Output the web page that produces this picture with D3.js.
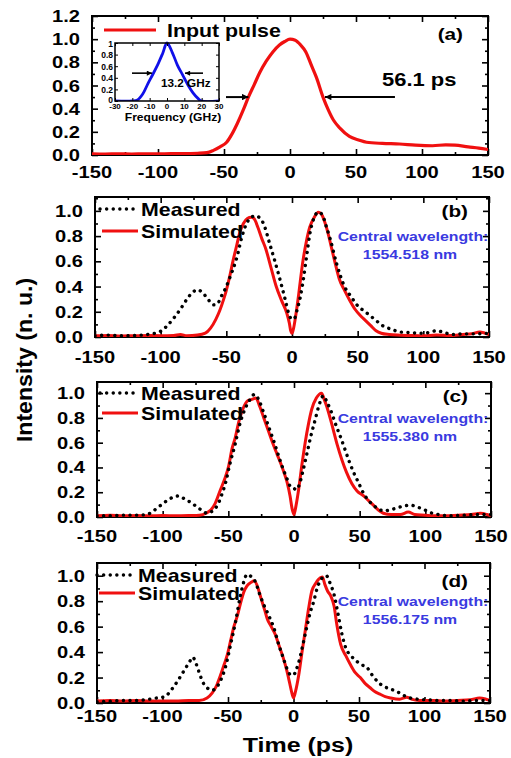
<!DOCTYPE html>
<html>
<head>
<meta charset="utf-8">
<script src="https://cdn.jsdelivr.net/npm/d3@7"></script>
<style>
  body { margin: 0; background: #fff; }
  text { font-family: "Liberation Sans", Arial, sans-serif; font-weight: bold; }
</style>
</head>
<body>
<svg id="chart" width="511" height="758"></svg>
<script>
// ---- data ----
const timeTicks = [-150, -100, -50, 0, 50, 100, 150];
const freqTicks = [-30, -20, -10, 0, 10, 20, 30];
const freqYTicks = [0, 0.2, 0.4, 0.6, 0.8, 1];

const inputPulse = [[-150,0.01],[-140,0.008],[-130,0.01],[-120,0.008],[-110,0.01],[-100,0.01],[-90,0.012],[-80,0.012],[-70,0.015],[-63,0.02],[-58,0.04],[-53,0.07],[-48,0.11],[-44,0.18],[-40,0.27],[-35,0.4],[-31.5,0.5],[-27,0.61],[-23,0.71],[-18,0.81],[-13,0.89],[-8,0.95],[-4,0.98],[0,1.0],[4,0.99],[8,0.95],[12,0.89],[16,0.78],[20,0.67],[25,0.5],[29,0.39],[33,0.3],[38,0.23],[45,0.16],[52,0.13],[58,0.11],[70,0.1],[83,0.095],[95,0.085],[108,0.08],[118,0.088],[125,0.085],[135,0.07],[143,0.06],[150,0.047]];

const spectrum = [[-30,0],[-20,0],[-17,0.02],[-14,0.12],[-11,0.3],[-8,0.47],[-5,0.65],[-2.5,0.82],[0,1],[3,0.84],[6,0.62],[9,0.45],[12,0.28],[15,0.14],[18,0.04],[20,0],[30,0]];

const measuredB = [[-150,0.01],[-140,0.015],[-130,0.01],[-120,0.012],[-110,0.02],[-100,0.045],[-95,0.09],[-90,0.15],[-85,0.22],[-80,0.3],[-76,0.35],[-72,0.375],[-68,0.35],[-64,0.3],[-60,0.255],[-57,0.26],[-54,0.32],[-50,0.4],[-47,0.48],[-42,0.63],[-38,0.8],[-35,0.89],[-31,0.95],[-28,0.96],[-24,0.94],[-21,0.88],[-17,0.74],[-13,0.6],[-9,0.45],[-5,0.29],[-2,0.17],[0,0.14],[2,0.15],[4,0.22],[6,0.3],[9,0.48],[11,0.63],[14,0.84],[17,0.95],[20,0.99],[23,0.97],[26,0.88],[29,0.78],[34,0.58],[40,0.4],[45,0.32],[49,0.26],[57,0.19],[63,0.14],[69,0.09],[76,0.06],[82,0.04],[90,0.035],[97,0.03],[104,0.035],[110,0.05],[116,0.035],[122,0.02],[130,0.025],[140,0.025],[150,0.03]];
const simulatedB = [[-150,0.01],[-140,0.012],[-130,0.008],[-120,0.01],[-110,0.012],[-100,0.01],[-90,0.012],[-85,0.02],[-80,0.01],[-72,0.015],[-66,0.03],[-62,0.07],[-58,0.14],[-55,0.21],[-52,0.3],[-50,0.37],[-47,0.5],[-45,0.6],[-42,0.73],[-40,0.82],[-37,0.9],[-34,0.94],[-31,0.95],[-29,0.94],[-26,0.87],[-23,0.78],[-20,0.7],[-16,0.55],[-12,0.4],[-8,0.29],[-4,0.19],[-2,0.11],[-1,0.05],[0,0.03],[1,0.06],[3,0.18],[5,0.33],[8,0.58],[11,0.76],[13.5,0.87],[17,0.95],[20,0.99],[22,0.98],[25,0.91],[28,0.8],[30,0.71],[33,0.58],[36,0.46],[40,0.37],[44,0.29],[48,0.22],[52,0.17],[56,0.13],[60,0.09],[64,0.05],[68,0.03],[74,0.02],[80,0.015],[90,0.012],[100,0.01],[110,0.015],[120,0.012],[130,0.02],[137,0.025],[143,0.04],[147,0.03],[150,0.02]];

const measuredC = [[-150,0.01],[-140,0.01],[-130,0.015],[-120,0.015],[-112,0.02],[-107,0.05],[-102,0.09],[-97,0.13],[-92,0.16],[-88,0.17],[-84,0.15],[-79,0.12],[-75,0.09],[-71,0.06],[-66,0.03],[-62,0.05],[-58,0.1],[-55,0.18],[-52,0.28],[-49,0.42],[-45,0.58],[-41,0.76],[-37,0.88],[-34,0.94],[-30,0.99],[-27,0.95],[-23,0.84],[-19,0.72],[-15,0.6],[-11,0.47],[-8,0.38],[-5,0.3],[-3,0.25],[0,0.23],[2,0.22],[4,0.26],[7,0.38],[10,0.52],[13,0.66],[16,0.78],[19,0.9],[22.5,0.98],[25,0.93],[28,0.86],[32,0.74],[36,0.63],[39,0.54],[42,0.45],[45,0.37],[49,0.28],[53,0.19],[57,0.13],[61,0.09],[65,0.06],[69,0.05],[74,0.06],[79,0.075],[84,0.09],[89,0.095],[94,0.08],[99,0.06],[104,0.035],[110,0.02],[119,0.01],[130,0.015],[140,0.02],[150,0.02]];
const simulatedC = [[-150,0.01],[-140,0.015],[-130,0.01],[-120,0.012],[-110,0.01],[-100,0.012],[-90,0.01],[-80,0.012],[-72,0.015],[-67,0.03],[-63,0.06],[-60,0.11],[-56,0.22],[-53,0.3],[-50,0.4],[-47,0.56],[-45,0.63],[-42,0.77],[-39,0.87],[-35,0.94],[-32,0.95],[-29,0.96],[-26,0.89],[-23,0.8],[-20,0.71],[-17,0.62],[-13,0.51],[-10,0.43],[-7,0.34],[-5,0.27],[-3,0.17],[-1.5,0.07],[0,0.02],[1.5,0.09],[3.5,0.22],[6,0.42],[8.5,0.6],[11,0.75],[13.5,0.87],[17,0.96],[21,1.0],[23,0.95],[25,0.89],[28,0.78],[30,0.7],[33,0.58],[36.5,0.46],[40,0.36],[44,0.27],[48,0.21],[53,0.17],[57,0.13],[61,0.09],[65,0.05],[68,0.03],[74,0.02],[81,0.02],[87,0.04],[92,0.02],[100,0.015],[106,0.01],[115,0.01],[125,0.015],[135,0.02],[142,0.03],[147,0.02],[150,0.01]];

const measuredD = [[-150,0.01],[-140,0.015],[-130,0.02],[-120,0.02],[-110,0.03],[-104,0.04],[-98,0.05],[-95,0.08],[-92,0.12],[-88,0.18],[-85,0.23],[-82,0.28],[-79,0.33],[-77,0.36],[-74,0.3],[-72,0.24],[-69,0.16],[-66,0.12],[-62,0.1],[-59,0.12],[-56,0.17],[-52,0.28],[-48,0.46],[-44,0.65],[-41,0.82],[-38,0.95],[-35.5,1.01],[-32,0.99],[-29,0.95],[-26,0.86],[-23,0.78],[-19,0.69],[-15,0.59],[-11,0.45],[-8,0.36],[-5,0.27],[-2,0.22],[0,0.22],[2,0.26],[4,0.32],[7,0.45],[10,0.59],[13,0.72],[15.5,0.8],[18,0.9],[21,0.97],[25,1.0],[28,0.94],[31,0.85],[34,0.7],[37,0.54],[40,0.43],[44,0.37],[48,0.33],[52,0.3],[56,0.28],[60,0.22],[64,0.17],[69,0.13],[74,0.11],[79,0.09],[84,0.06],[89,0.04],[95,0.03],[102,0.025],[110,0.02],[120,0.02],[130,0.015],[140,0.02],[150,0.02]];
const simulatedD = [[-150,0.015],[-140,0.02],[-130,0.015],[-120,0.02],[-110,0.015],[-100,0.015],[-90,0.015],[-80,0.02],[-72,0.02],[-66,0.04],[-62,0.08],[-59,0.13],[-56,0.21],[-53,0.3],[-50.5,0.38],[-48,0.49],[-45.5,0.6],[-43,0.68],[-40.5,0.78],[-38,0.87],[-35.5,0.92],[-32,0.95],[-30,0.96],[-27,0.9],[-25,0.83],[-22,0.73],[-20,0.66],[-17,0.6],[-14,0.54],[-11,0.45],[-8,0.36],[-5,0.25],[-3,0.16],[-1.5,0.09],[0,0.04],[1.5,0.09],[4,0.22],[6.5,0.4],[9,0.57],[11.5,0.74],[14,0.88],[17,0.94],[19,0.97],[22,0.99],[24,0.93],[26,0.88],[28.5,0.84],[31,0.76],[33,0.62],[36,0.46],[40,0.37],[43.5,0.3],[47,0.24],[51,0.2],[55,0.15],[58.5,0.12],[62,0.09],[66,0.07],[70,0.05],[74,0.04],[81,0.03],[86.5,0.045],[90,0.03],[96,0.02],[102,0.02],[107,0.02],[115,0.015],[125,0.02],[135,0.025],[142,0.04],[147,0.03],[150,0.02]];

const wavelengths = ["1554.518 nm", "1555.380 nm", "1556.175 nm"];
const fwhmTime = [-31.5, 26.5];   // ps, half-max crossing of the input pulse
const fwhmFreq = [-8.7, 10.4];    // GHz, half-max crossing of the spectrum

// ---- drawing ----
const svg = d3.select("#chart");
const SX = 1.22;   // the source figure is stretched horizontally
const red = "#f01010", blue = "#1010e8", txtBlue = "#3a3ae0";

svg.append("defs").append("marker")
    .attr("id", "arrow").attr("viewBox", "0 0 10 10")
    .attr("refX", 10).attr("refY", 5)
    .attr("markerWidth", 4).attr("markerHeight", 3.2)
    .attr("markerUnits", "strokeWidth").attr("orient", "auto")
  .append("path").attr("d", "M0,0L10,5L0,10Z").attr("fill", "#000");

function label(g, x, y, str, size, anchor, color, sx) {
    return g.append("text")
        .attr("transform", `translate(${x},${y}) scale(${sx || SX},1)`)
        .attr("text-anchor", anchor || "start")
        .style("font-size", size + "px")
        .attr("fill", color || "#000")
        .text(str);
}

function frame(g, x, y, major, minor, yMajor, yMinor, len) {
    const [x0, x1] = x.range(), [y0, y1] = y.range();
    const w = x1 - x0, h = y0 - y1;
    const tick = (axis, tr, vals, size) =>
        g.append("g").attr("transform", tr)
            .call(axis.tickValues(vals).tickSize(size).tickFormat(""))
            .call(s => s.select(".domain").remove())
            .call(s => s.selectAll("line").attr("stroke", "#000").attr("stroke-width", len > 4 ? 1.6 : 1));
    tick(d3.axisBottom(x), `translate(0,${y0})`, major, -len);
    tick(d3.axisBottom(x), `translate(0,${y0})`, minor, -len / 2);
    tick(d3.axisTop(x), `translate(0,${y1})`, major, -len);
    tick(d3.axisTop(x), `translate(0,${y1})`, minor, -len / 2);
    tick(d3.axisLeft(y), `translate(${x0},0)`, yMajor, -len);
    tick(d3.axisLeft(y), `translate(${x0},0)`, yMinor, -len / 2);
    tick(d3.axisRight(y), `translate(${x1},0)`, yMajor, -len);
    tick(d3.axisRight(y), `translate(${x1},0)`, yMinor, -len / 2);
    g.append("rect").attr("x", x0).attr("y", y1).attr("width", w).attr("height", h)
        .attr("fill", "none").attr("stroke", "#000").attr("stroke-width", len > 4 ? 2 : 1.5);
}

function series(g, x, y, data, color, dotted, clipId, width) {
    const line = d3.line().x(d => x(d[0])).y(d => y(d[1])).curve(d3.curveMonotoneX);
    const p = g.append("path").datum(data)
        .attr("d", line).attr("fill", "none")
        .attr("stroke", color).attr("stroke-width", width || 3)
        .attr("clip-path", `url(#${clipId})`);
    if (dotted) p.attr("stroke-dasharray", "0.1 6.5").attr("stroke-linecap", "round").attr("stroke-width", 3.4);
    return p;
}

function makePanel(cfg) {
    const g = svg.append("g");
    const x = d3.scaleLinear().domain([-150, 150]).range([cfg.left, cfg.right]);
    const y = d3.scaleLinear().domain([0, cfg.ymax]).range([cfg.bottom, cfg.top]);
    const clipId = "clip" + cfg.name;
    svg.select("defs").append("clipPath").attr("id", clipId)
        .append("rect").attr("x", cfg.left).attr("y", cfg.top)
        .attr("width", cfg.right - cfg.left).attr("height", cfg.bottom - cfg.top);

    const yMajor = d3.range(0, cfg.ymax + 0.001, 0.2);
    const yMinor = d3.range(0.1, cfg.ymax, 0.2);
    frame(g, x, y, timeTicks, d3.range(-125, 150, 50), yMajor, yMinor, 6);

    timeTicks.forEach(t => label(g, x(t), cfg.bottom + cfg.xLabelDy, t, 16.5, "middle"));
    yMajor.forEach(v => label(g, cfg.left - 12, y(v) + 6, d3.format(".1f")(v), 16.5, "end"));
    return { g, x, y, clipId };
}

// panel (a)
const pa = makePanel({ name: "a", left: 92, right: 488, top: 16, bottom: 155, ymax: 1.2, xLabelDy: 23 });
series(pa.g, pa.x, pa.y, inputPulse, red, false, pa.clipId, 3.2);
pa.g.append("line").attr("x1", 104).attr("x2", 156).attr("y1", 30).attr("y2", 30)
    .attr("stroke", red).attr("stroke-width", 3.2);
label(pa.g, 167, 37, "Input pulse", 17.5);
label(pa.g, 463, 40, "(a)", 17, "end");
label(pa.g, 382, 86, "56.1 ps", 18);
pa.g.append("line").attr("x1", pa.x(-48.5)).attr("x2", pa.x(fwhmTime[0]))
    .attr("y1", pa.y(0.5)).attr("y2", pa.y(0.5))
    .attr("stroke", "#000").attr("stroke-width", 2).attr("marker-end", "url(#arrow)");
pa.g.append("line").attr("x1", pa.x(79.5)).attr("x2", pa.x(fwhmTime[1]))
    .attr("y1", pa.y(0.5)).attr("y2", pa.y(0.5))
    .attr("stroke", "#000").attr("stroke-width", 2).attr("marker-end", "url(#arrow)");

// inset spectrum
const ig = svg.append("g");
const fx = d3.scaleLinear().domain([-30, 30]).range([115, 219]);
const fy = d3.scaleLinear().domain([0, 1]).range([101, 43]);
ig.append("rect").attr("x", 115).attr("y", 43).attr("width", 104).attr("height", 58).attr("fill", "#fff");
svg.select("defs").append("clipPath").attr("id", "clipInset")
    .append("rect").attr("x", 115).attr("y", 40).attr("width", 104).attr("height", 61);
ig.append("path").datum(spectrum)
    .attr("d", d3.line().x(d => fx(d[0])).y(d => fy(d[1])).curve(d3.curveCatmullRom))
    .attr("fill", "none").attr("stroke", blue).attr("stroke-width", 2.8)
    .attr("clip-path", "url(#clipInset)");
frame(ig, fx, fy, freqTicks, [], freqYTicks, [], 3);
freqTicks.forEach(f => label(ig, fx(f), 109, f, 8, "middle", "#000", 1.0));
freqYTicks.forEach((v, i) => label(ig, 113, fy(v) + (i === 0 ? 1.5 : 3.5), v, 8.5, "end", "#000", 1.0));
label(ig, 173, 120.5, "Frequency (GHz)", 10.5, "middle", "#000", 1.15);
label(ig, 161, 87, "13.2 GHz", 10.5, "start", "#000", 1.12);
ig.append("line").attr("x1", 132).attr("x2", fx(fwhmFreq[0])).attr("y1", fy(0.48)).attr("y2", fy(0.48))
    .attr("stroke", "#000").attr("stroke-width", 1.6).attr("marker-end", "url(#arrow)");
ig.append("line").attr("x1", 203).attr("x2", fx(fwhmFreq[1])).attr("y1", fy(0.48)).attr("y2", fy(0.48))
    .attr("stroke", "#000").attr("stroke-width", 1.6).attr("marker-end", "url(#arrow)");

// panels (b)-(d)
const lower = [
    { name: "b", left: 95, right: 489, top: 197, bottom: 337, ymax: 1.11, xLabelDy: 26,
      meas: measuredB, sim: simulatedB, tag: "(b)", tagY: 217, legY: 209, legDy: 22, cwY: 241 },
    { name: "c", left: 97, right: 491, top: 382, bottom: 517, ymax: 1.09, xLabelDy: 25,
      meas: measuredC, sim: simulatedC, tag: "(c)", tagY: 402, legY: 393, legDy: 20, cwY: 423 },
    { name: "d", left: 97, right: 490, top: 563, bottom: 703, ymax: 1.1, xLabelDy: 19,
      meas: measuredD, sim: simulatedD, tag: "(d)", tagY: 587, legY: 575, legDy: 18, cwY: 606 }
];
lower.forEach((cfg, i) => {
    const p = makePanel(cfg);
    series(p.g, p.x, p.y, cfg.sim, red, false, p.clipId, 3);
    series(p.g, p.x, p.y, cfg.meas, "#000", true, p.clipId);
    const lx = cfg.name === "d" ? 97 : 100;
    p.g.append("line").attr("x1", lx).attr("x2", lx + 37).attr("y1", cfg.legY).attr("y2", cfg.legY)
        .attr("stroke", "#000").attr("stroke-width", 3.4)
        .attr("stroke-dasharray", "0.1 6.5").attr("stroke-linecap", "round");
    label(p.g, lx + 41, cfg.legY + 7, "Measured", 17.5);
    p.g.append("line").attr("x1", lx + 2).attr("x2", lx + 38)
        .attr("y1", cfg.legY + cfg.legDy).attr("y2", cfg.legY + cfg.legDy)
        .attr("stroke", red).attr("stroke-width", 3);
    label(p.g, lx + 41, cfg.legY + cfg.legDy + 7, "Simulated", 17.5);
    label(p.g, 468, cfg.tagY, cfg.tag, 17, "end");
    label(p.g, 413, cfg.cwY, "Central wavelength:", 13, "middle", txtBlue);
    label(p.g, 410, cfg.cwY + 18, wavelengths[i], 13, "middle", txtBlue);
});

// axis titles
svg.append("text").attr("transform", "translate(32,360) rotate(-90) scale(1.05,1)")
    .attr("text-anchor", "middle").style("font-size", "22px").text("Intensity (n. u.)");
label(svg, 298, 752, "Time (ps)", 20.5, "middle");
</script>
</body>
</html>
